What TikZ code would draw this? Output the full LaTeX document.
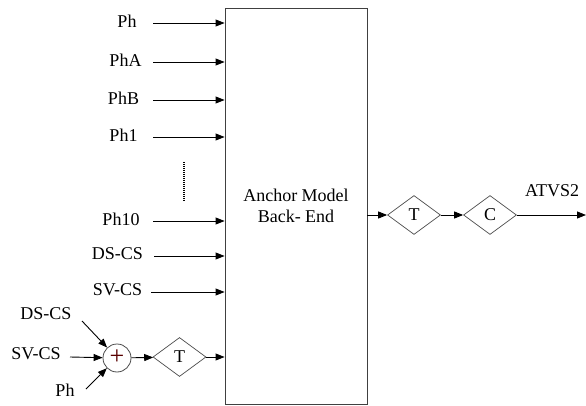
\documentclass[tikz,border=0pt]{standalone}
\usepackage{fontspec}
\setmainfont{Liberation Serif}
\usetikzlibrary{arrows.meta,shapes.geometric}
\begin{document}
\begin{tikzpicture}[x=1pt,y=-1pt,
  lbl/.style={font=\fontsize{18}{21}\selectfont, inner sep=0pt},
  arr/.style={line width=0.9pt,-{Triangle[length=9pt,width=7pt]}},
  dia/.style={draw=black!70,line width=0.7pt,shape=diamond,minimum width=53pt,minimum height=39pt,inner sep=0pt,font=\fontsize{18}{21}\selectfont},
  bigbox/.style={draw=black!75,line width=0.9pt,minimum width=142pt,minimum height=396pt,inner sep=0pt,align=center,font=\fontsize{18}{21}\selectfont}
]
\useasboundingbox (0,0) rectangle (586,406);
\node[bigbox] (box) at (296,206) {Anchor Model\\Back- End};
% inputs
\node[lbl] (lph) at (127,21) {Ph};
\node[lbl] (lpha) at (125.5,60) {PhA};
\node[lbl] (lphb) at (123.5,98) {PhB};
\node[lbl] (lph1) at (123.5,135) {Ph1};
\node[lbl] (lph10) at (121,219) {Ph10};
\node[lbl] (lds) at (117.5,254) {DS-CS};
\node[lbl] (lsv) at (117.5,290) {SV-CS};
\coordinate (sph) at (153,23);
\coordinate (spha) at (153,62);
\coordinate (sphb) at (153,100);
\coordinate (sph1) at (153,137);
\coordinate (sph10) at (153,221);
\coordinate (sds) at (154,256);
\coordinate (ssv) at (151,292);
\foreach \s in {sph,spha,sphb,sph1,sph10,sds,ssv}{
  \draw[arr] (\s) -- (\s -| box.west);
}
\coordinate (d1) at (184,162);
\coordinate (d2) at (184,202);
\draw[line width=1.2pt,dash pattern=on 1pt off 1pt] (d1) -- (d2);
% bottom combination
\node[circle,draw=black!70,line width=0.8pt,minimum size=28pt,inner sep=0pt] (plus) at (117,358) {};
\node[font=\fontsize{26}{26}\selectfont,text=red!35!black,inner sep=0pt] (plussign) at (117,357.5) {+};
\node[lbl] (bds) at (46,314) {DS-CS};
\node[lbl] (bsv) at (36,354) {SV-CS};
\node[lbl] (bph) at (65,390) {Ph};
\coordinate (cds) at (82,321);
\coordinate (csv) at (70,357);
\coordinate (cph) at (86,389);
\draw[arr] (cds) -- (plus);
\draw[arr] (csv) -- (plus);
\draw[arr] (cph) -- (plus);
\node[dia] (t1) at (179.5,357) {T};
\draw[arr] (plus) -- (t1);
\draw[arr] (t1) -- (t1 -| box.west);
% outputs
\node[dia] (t2) at (414,215) {T};
\node[dia] (c) at (490,215) {C};
\draw[arr] (t2 -| box.east) -- (t2);
\draw[arr] (t2) -- (c);
\coordinate (out) at (586,215);
\draw[arr] (c) -- (out);
\node[lbl] (atvs) at (552,191) {ATVS2};
\end{tikzpicture}
\end{document}
